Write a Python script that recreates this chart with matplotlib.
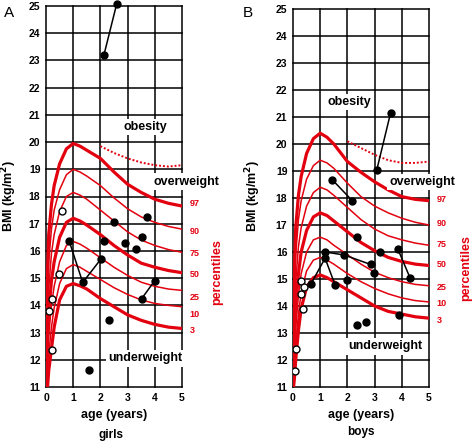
import matplotlib
matplotlib.use("Agg")
import matplotlib.pyplot as plt

plt.rcParams['font.family'] = ['Liberation Sans', 'DejaVu Sans']

RED = '#e3000f'

# --- percentile curves ------------------------------------------------------
AGE = [0, 0.05, 0.1, 0.2, 0.3, 0.5, 0.75, 1, 1.25, 1.5, 2, 2.5, 3, 3.5, 4, 4.5, 5]
PCT_NAMES = ['97', '90', '75', '50', '25', '10', '3']
THICK = ['97', '50', '3']

GIRLS_PCT = {
    '97': [11.8, 15.0, 16.6, 17.7, 18.4, 19.2, 19.75, 19.95, 19.85, 19.7, 19.4, 18.9, 18.45, 18.15, 17.9, 17.75, 17.65],
    '90': [11.6, 14.2, 15.6, 16.8, 17.5, 18.25, 18.8, 19.0, 18.9, 18.75, 18.4, 17.95, 17.55, 17.25, 17.05, 16.9, 16.8],
    '75': [11.4, 13.3, 14.6, 15.9, 16.6, 17.45, 18.0, 18.15, 18.05, 17.9, 17.5, 17.1, 16.7, 16.4, 16.2, 16.05, 15.95],
    '50': [11.2, 12.6, 13.7, 14.9, 15.6, 16.5, 17.05, 17.2, 17.1, 16.95, 16.6, 16.2, 15.85, 15.55, 15.4, 15.28, 15.2],
    '25': [11.0, 12.0, 12.9, 14.0, 14.7, 15.6, 16.2, 16.35, 16.25, 16.1, 15.75, 15.4, 15.1, 14.85, 14.7, 14.6, 14.55],
    '10': [10.8, 11.5, 12.2, 13.2, 13.9, 14.8, 15.35, 15.5, 15.4, 15.25, 14.95, 14.65, 14.4, 14.2, 14.07, 14.0, 13.95],
    '3':  [10.6, 10.9, 11.6, 12.4, 13.2, 14.2, 14.7, 14.8, 14.72, 14.6, 14.25, 13.95, 13.65, 13.45, 13.3, 13.2, 13.15],
}
BOYS_PCT = {
    '97': [12.0, 15.3, 16.9, 18.1, 18.8, 19.65, 20.2, 20.4, 20.25, 20.0, 19.35, 18.95, 18.6, 18.3, 18.05, 17.95, 17.9],
    '90': [11.8, 14.5, 15.9, 17.2, 17.9, 18.7, 19.2, 19.4, 19.3, 19.1, 18.55, 18.05, 17.7, 17.45, 17.25, 17.1, 17.0],
    '75': [11.6, 13.6, 14.9, 16.2, 16.9, 17.7, 18.2, 18.4, 18.3, 18.1, 17.65, 17.2, 16.85, 16.6, 16.45, 16.33, 16.25],
    '50': [11.4, 12.9, 14.0, 15.2, 16.0, 16.8, 17.3, 17.45, 17.35, 17.15, 16.75, 16.35, 16.05, 15.8, 15.65, 15.55, 15.5],
    '25': [11.2, 12.3, 13.2, 14.4, 15.2, 16.0, 16.45, 16.55, 16.45, 16.25, 15.9, 15.55, 15.25, 15.05, 14.9, 14.8, 14.75],
    '10': [11.0, 11.8, 12.6, 13.7, 14.5, 15.3, 15.7, 15.8, 15.7, 15.55, 15.2, 14.9, 14.65, 14.45, 14.3, 14.2, 14.15],
    '3':  [10.8, 11.3, 12.0, 13.1, 13.9, 14.7, 15.05, 15.15, 15.05, 14.9, 14.6, 14.3, 14.0, 13.8, 13.7, 13.6, 13.55],
}

# dotted obesity threshold
OBES_AGE = [2, 2.5, 3, 3.5, 4, 4.5, 5]
GIRLS_OBES = [19.85, 19.6, 19.4, 19.25, 19.15, 19.1, 19.15]
BOYS_OBES = [20.1, 19.85, 19.6, 19.4, 19.3, 19.3, 19.35]

# percentile label heights at the right edge
GIRLS_LBL_Y = [17.73, 16.73, 15.9, 15.15, 14.3, 13.67, 13.06]
BOYS_LBL_Y = [17.93, 17.05, 16.28, 15.52, 14.7, 14.1, 13.47]

# --- children (age, BMI) ----------------------------------------------------
GIRLS_OPEN_X = [0.6, 0.49, 0.21, 0.12, 0.21]
GIRLS_OPEN_Y = [17.47, 15.16, 14.23, 13.8, 12.37]
GIRLS_DOT_X = [2.51, 3.7, 2.13, 2.92, 3.31, 3.53, 2.3, 1.58]
GIRLS_DOT_Y = [17.05, 17.25, 16.37, 16.3, 16.08, 16.5, 13.48, 11.63]
GIRLS_TRACKS = [
    ([2.13, 2.6], [23.2, 25.08]),
    ([0.85, 1.35, 2.01], [16.37, 14.84, 15.69]),
    ([3.52, 4.0], [14.25, 14.91]),
]

BOYS_OPEN_X = [0.28, 0.41, 0.28, 0.37, 0.12, 0.07]
BOYS_OPEN_Y = [14.93, 14.7, 14.43, 13.88, 12.4, 11.6]
BOYS_DOT_X = [2.0, 2.98, 3.2, 2.35, 2.35, 2.7, 3.9]
BOYS_DOT_Y = [14.98, 15.22, 16.0, 16.55, 13.3, 13.42, 13.67]
BOYS_TRACKS = [
    ([1.45, 2.18], [18.67, 17.9]),
    ([3.08, 3.59], [19.04, 21.16]),
    ([0.65, 1.18, 1.55], [14.8, 15.77, 14.77]),
    ([1.18, 1.88, 2.85], [16.0, 15.89, 15.54]),
    ([3.85, 4.3], [16.12, 15.05]),
]

W, H = 472, 442
fig = plt.figure(figsize=(W / 100, H / 100), dpi=100)


def px_axes(left, top, right, bottom):
    return fig.add_axes([left / W, 1 - bottom / H, (right - left) / W, (bottom - top) / H])


def panel(ax, pct, obes, lbl_y, open_x, open_y, dot_x, dot_y, tracks, labels):
    ax.set_xlim(0, 5)
    ax.set_ylim(11, 25)
    for s in ax.spines.values():
        s.set_visible(False)
    for x in range(0, 6):
        ax.axvline(x, color='k', lw=1.1, zorder=1, clip_on=False)
    for y in range(11, 26):
        ax.axhline(y, color='k', lw=1.1, zorder=1, clip_on=False)
    ax.set_xticks(range(0, 6))
    ax.set_yticks(range(11, 26))
    ax.tick_params(length=0, labelsize=7.5, pad=4)
    for t in ax.get_xticklabels() + ax.get_yticklabels():
        t.set_fontweight('bold')

    for name in PCT_NAMES:
        lw = 2.3 if name in THICK else 1.1
        ax.plot(AGE, pct[name], color=RED, lw=lw, zorder=3, clip_on=True)
    ax.plot(OBES_AGE, obes, color=RED, lw=1.4, ls=(0, (1, 1)), zorder=3)

    for name, y in zip(PCT_NAMES, lbl_y):
        ax.text(5.27, y, name, color=RED, fontsize=6.5, fontweight='bold',
                ha='left', va='center', clip_on=False)

    for tx, ty in tracks:
        ax.plot(tx, ty, color='k', lw=1.1, marker='o', ms=5, zorder=5, clip_on=False)
    ax.plot(dot_x, dot_y, 'o', color='k', ms=5, zorder=5)
    ax.plot(open_x, open_y, 'o', mfc='white', mec='k', mew=1.0, ms=5, zorder=5)

    box = dict(facecolor='white', edgecolor='none', pad=1.5)
    for txt, x, y, ha in labels:
        ax.text(x, y, txt, fontsize=9, fontweight='bold', ha=ha, va='center',
                bbox=box, zorder=4, clip_on=False)


axA = px_axes(46, 6, 182, 387)
panel(axA, GIRLS_PCT, GIRLS_OBES, GIRLS_LBL_Y, GIRLS_OPEN_X, GIRLS_OPEN_Y,
      GIRLS_DOT_X, GIRLS_DOT_Y, GIRLS_TRACKS,
      [('obesity', 3.64, 20.56, 'center'),
       ('overweight', 3.97, 18.55, 'left'),
       ('underweight', 2.28, 12.05, 'left')])

axB = px_axes(293, 9, 429, 387)
panel(axB, BOYS_PCT, BOYS_OBES, BOYS_LBL_Y, BOYS_OPEN_X, BOYS_OPEN_Y,
      BOYS_DOT_X, BOYS_DOT_Y, BOYS_TRACKS,
      [('obesity', 2.08, 21.55, 'center'),
       ('overweight', 3.55, 18.6, 'left'),
       ('underweight', 2.02, 12.5, 'left')])


def ftext(x, y, s, **kw):
    fig.text(x / W, 1 - y / H, s, ha='center', va='center', **kw)


ftext(9, 13, 'A', fontsize=11)
ftext(248, 13, 'B', fontsize=11)
ftext(9, 196, 'BMI (kg/m$^\\mathbf{2}$)', fontsize=9, fontweight='bold', rotation=90)
ftext(253, 196, 'BMI (kg/m$^\\mathbf{2}$)', fontsize=9, fontweight='bold', rotation=90)
ftext(114, 415, 'age (years)', fontsize=9, fontweight='bold')
ftext(361, 415, 'age (years)', fontsize=9, fontweight='bold')
ftext(111, 435, 'girls', fontsize=8.5, fontweight='bold')
ftext(361, 432, 'boys', fontsize=8.5, fontweight='bold')
ftext(217, 272, 'percentiles', fontsize=9, fontweight='bold', rotation=90, color=RED)
ftext(466, 268, 'percentiles', fontsize=9, fontweight='bold', rotation=90, color=RED)

fig.savefig('out.png', dpi=100)
